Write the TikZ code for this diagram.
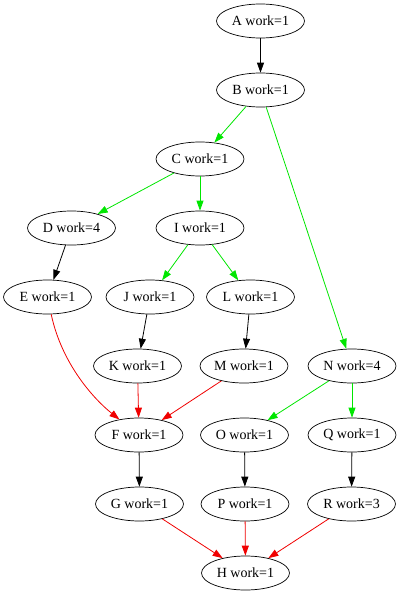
\documentclass[tikz,border=0pt]{standalone}
\usepackage{fontspec}
\setmainfont{Liberation Serif}
\usetikzlibrary{shapes.geometric,arrows.meta}
\definecolor{edgegreen}{RGB}{0,230,0}
\definecolor{edgered}{RGB}{240,0,0}
\begin{document}
\begin{tikzpicture}[x=1pt,y=-1pt,
  task/.style={ellipse,draw=black,line width=0.7pt,minimum width=88pt,minimum height=34pt,
    inner sep=0pt,font=\fontsize{14}{16}\selectfont},
  dep/.style={line width=0.8pt,-{Triangle[length=10pt,width=7pt]}},
  blk/.style={dep,draw=black},
  grn/.style={dep,draw=edgegreen},
  rd/.style={dep,draw=edgered}]
\useasboundingbox (0,0) rectangle (400,594);
% task nodes
\node[task] (A) at (260.5,21) {A work=1};
\node[task] (B) at (260.5,90) {B work=1};
\node[task] (C) at (200,159) {C work=1};
\node[task] (D) at (71.5,228) {D work=4};
\node[task] (I) at (200,228) {I work=1};
\node[task] (E) at (47.5,297) {E work=1};
\node[task] (J) at (150,297) {J work=1};
\node[task] (L) at (250.5,297) {L work=1};
\node[task] (K) at (137.5,366) {K work=1};
\node[task] (M) at (244,366) {M work=1};
\node[task] (N) at (352,366) {N work=4};
\node[task] (F) at (139,435) {F work=1};
\node[task] (O) at (244.5,435) {O work=1};
\node[task] (Q) at (352,435) {Q work=1};
\node[task] (G) at (139.5,504) {G work=1};
\node[task] (P) at (245,504) {P work=1};
\node[task] (R) at (351.5,504) {R work=3};
\node[task] (H) at (245.5,573) {H work=1};
% dependencies
\draw[blk] (A) -- (B);
\draw[grn] (B) -- (C);
\draw[grn] (B) -- (N);
\draw[grn] (C) -- (D);
\draw[grn] (C) -- (I);
\draw[blk] (D) -- (E);
\draw[grn] (I) -- (J);
\draw[grn] (I) -- (L);
\draw[rd] (E) .. controls (62,365) and (95,400) .. (F);
\draw[blk] (J) -- (K);
\draw[blk] (L) -- (M);
\draw[rd] (K) -- (F);
\draw[rd] (M) -- (F);
\draw[grn] (N) -- (O);
\draw[grn] (N) -- (Q);
\draw[blk] (F) -- (G);
\draw[blk] (O) -- (P);
\draw[blk] (Q) -- (R);
\draw[rd] (G) -- (H);
\draw[rd] (P) -- (H);
\draw[rd] (R) -- (H);
\end{tikzpicture}
\end{document}
